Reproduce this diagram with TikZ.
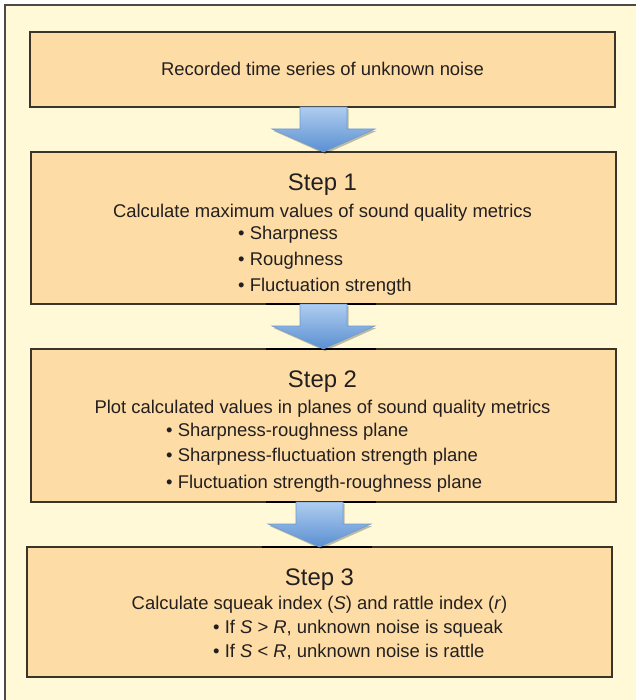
\documentclass[tikz,border=0pt]{standalone}
\usepackage{fontspec}
\setmainfont{Liberation Sans}
\usetikzlibrary{calc,shadows}
\definecolor{bgyellow}{HTML}{FFF9D8}
\definecolor{boxfill}{HTML}{FDDDA5}
\definecolor{boxline}{HTML}{3B3428}
\definecolor{arrtop}{HTML}{AFCDF0}
\definecolor{arrbot}{HTML}{5A8FD1}
\definecolor{arrline}{HTML}{6D9BD2}
\definecolor{frameline}{HTML}{4A4A4A}
\definecolor{txt}{HTML}{231F20}
\begin{document}
\begin{tikzpicture}[x=1bp,y=-1bp,
  stepbox/.style={draw=boxline, fill=boxfill, line width=1.3bp, minimum width=585bp, inner sep=0pt, outer sep=0pt,
    drop shadow={shadow xshift=1.2bp, shadow yshift=-1.2bp, opacity=0.35, fill=black}},
  body/.style={font=\fontsize{18.5}{22}\selectfont, text=txt, inner sep=0pt, anchor=base},
  bul/.style={body, anchor=base west},
  head/.style={font=\fontsize{24}{28}\selectfont, text=txt, inner sep=0pt, anchor=base},
  arrowshade/.style={top color=arrtop, bottom color=arrbot, draw=arrline, line width=0.6bp,
    drop shadow={shadow xshift=1.5bp, shadow yshift=-2bp, opacity=0.25, fill=black}},
  joinline/.style={draw=black, line width=1.8bp}]
\useasboundingbox (0,0) rectangle (636,700);
\fill[white] (0,0) rectangle (636,700);
\fill[bgyellow] (5,5) rectangle (636,700);
\draw[frameline, line width=1.4bp] (5,700) -- (5,5) -- (636,5);

% boxes
\node[stepbox, minimum height=75bp] (box0) at (322.5,69.5) {};
\node[stepbox, minimum height=152bp] (box1) at (323.5,228) {};
\node[stepbox, minimum height=153bp] (box2) at (323.5,425.5) {};
\node[stepbox, minimum height=130bp] (box3) at (319.5,612) {};

% texts
\node[body] (t0) at (322.5,76) {Recorded time series of unknown noise};

\node[head] (s1) at (322.5,190.5) {Step 1};
\node[body] (c1) at (322.5,217.5) {Calculate maximum values of sound quality metrics};
\node[bul] (b11) at (238,239.5) {• Sharpness};
\node[bul] (b12) at (238,265.5) {• Roughness};
\node[bul] (b13) at (238,291.5) {• Fluctuation strength};

\node[head] (s2) at (322.5,387) {Step 2};
\node[body] (c2) at (322.5,413) {Plot calculated values in planes of sound quality metrics};
\node[bul] (b21) at (166,436) {• Sharpness-roughness plane};
\node[bul] (b22) at (166,461) {• Sharpness-fluctuation strength plane};
\node[bul] (b23) at (166,488) {• Fluctuation strength-roughness plane};

\node[head] (s3) at (319.5,585.5) {Step 3};
\node[body] (c3) at (319.5,609.5) {Calculate squeak index (\textit{S}) and rattle index (\textit{r})};
\node[bul] (b31) at (213,633.5) {• If \textit{S} > \textit{R}, unknown noise is squeak};
\node[bul] (b32) at (213,657.5) {• If \textit{S} < \textit{R}, unknown noise is rattle};

% dark joins on box edges
\foreach \n/\a in {box1/south, box2/north, box2/south, box3/north}
  \draw[joinline] ($(\n.\a)+(-58,0)$) -- ($(\n.\a)+(52,0)$);

% block arrows
\foreach \a/\b in {box0/box1, box1/box2, box2/box3}
  \shade[arrowshade] let \p1=(\a.south), \p2=(\b.north) in
    (\x2-23.5bp,\y1) -- (\x2-23.5bp,\y2+23bp) -- (\x2-51.5bp,\y2+23bp) -- (\x2,\y2)
    -- (\x2+51.5bp,\y2+23bp) -- (\x2+23.5bp,\y2+23bp) -- (\x2+23.5bp,\y1) -- cycle;
\end{tikzpicture}
\end{document}
